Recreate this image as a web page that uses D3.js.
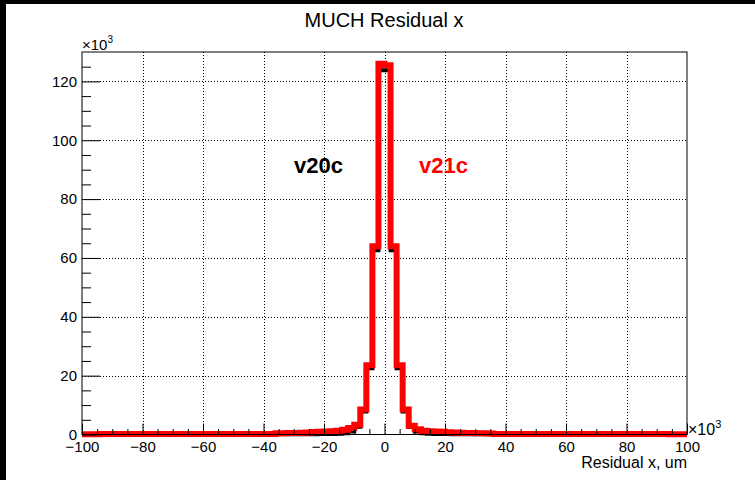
<!DOCTYPE html>
<html lang="en">
<head>
  <meta charset="UTF-8">
  <title>MUCH Residual x</title>
  <script src="https://d3js.org/d3.v7.min.js"></script>
  <style>
    body { margin: 0; background: #fff; }
    text { font-family: "Liberation Sans", Arial, Helvetica, sans-serif; }
  </style>
</head>
<body>
<svg id="graph" width="755" height="480"></svg>
<script>
  // histogram binning: 100 bins of width 2 from -100 to 100 (x10^3)
  var xMin = -100, xMax = 100, nBins = 100;

  // bin contents in units of 10^3 entries, bin 0 = [-100,-98]
  var v20c = [
    0.02, 0.02, 0.02, 0.02, 0.02, 0.02, 0.02, 0.02, 0.02, 0.02,
    0.02, 0.02, 0.02, 0.02, 0.02, 0.02, 0.02, 0.02, 0.02, 0.02,
    0.03, 0.03, 0.03, 0.03, 0.03, 0.03, 0.03, 0.04, 0.04, 0.04,
    0.05, 0.05, 0.06, 0.06, 0.07, 0.08, 0.09, 0.10, 0.12, 0.14,
    0.17, 0.20, 0.28, 0.45, 1.0, 2.6, 7.8, 22.5, 62.6, 123.8,
    123.8, 62.6, 22.5, 7.8, 2.6, 1.0, 0.45, 0.28, 0.20, 0.17,
    0.14, 0.12, 0.10, 0.09, 0.08, 0.07, 0.06, 0.06, 0.05, 0.05,
    0.04, 0.04, 0.04, 0.03, 0.03, 0.03, 0.03, 0.03, 0.03, 0.03,
    0.02, 0.02, 0.02, 0.02, 0.02, 0.02, 0.02, 0.02, 0.02, 0.02,
    0.02, 0.02, 0.02, 0.02, 0.02, 0.02, 0.02, 0.02, 0.02, 0.02
  ];
  var v21c = [
    0.12, 0.12, 0.12, 0.13, 0.13, 0.13, 0.13, 0.13, 0.14, 0.14,
    0.14, 0.14, 0.14, 0.15, 0.15, 0.15, 0.15, 0.15, 0.16, 0.16,
    0.16, 0.16, 0.17, 0.17, 0.17, 0.18, 0.18, 0.18, 0.19, 0.19,
    0.20, 0.20, 0.40, 0.45, 0.50, 0.55, 0.60, 0.70, 0.85, 0.95,
    1.0, 1.1, 1.3, 1.6, 2.2, 3.3, 8.5, 23.5, 64.0, 126.0,
    125.5, 64.0, 23.5, 8.5, 3.0, 1.8, 1.3, 1.1, 1.0, 0.9,
    0.8, 0.7, 0.6, 0.55, 0.5, 0.45, 0.4, 0.35, 0.20, 0.20,
    0.19, 0.19, 0.18, 0.18, 0.18, 0.17, 0.17, 0.17, 0.16, 0.16,
    0.16, 0.16, 0.15, 0.15, 0.15, 0.15, 0.15, 0.14, 0.14, 0.14,
    0.14, 0.14, 0.13, 0.13, 0.13, 0.13, 0.13, 0.12, 0.12, 0.12
  ];

  var xMajor = [-100, -80, -60, -40, -20, 0, 20, 40, 60, 80, 100];
  var yMajor = [0, 20, 40, 60, 80, 100, 120];

  // frame of the pad
  var frame = { left: 82, right: 687, top: 52, bottom: 434.5 };

  var svg = d3.select("#graph");

  // canvas edges
  svg.append("rect").attr("x", 0).attr("y", 0).attr("width", 755).attr("height", 4).attr("fill", "#000");
  svg.append("rect").attr("x", 0).attr("y", 0).attr("width", 6).attr("height", 480).attr("fill", "#000");

  var binWidth = (xMax - xMin) / nBins;
  var edges = d3.range(nBins + 1).map(function (i) { return xMin + i * binWidth; });

  // y range like ROOT: 5% headroom over the first drawn histogram
  var yMax = d3.max(v20c) * 1.05;

  var x = d3.scaleLinear().domain([xMin, xMax]).range([frame.left, frame.right]);
  var y = d3.scaleLinear().domain([0, yMax]).range([frame.bottom, frame.top]);

  // dotted grid at the major ticks
  var grid = svg.append("g")
    .attr("stroke", "#000")
    .attr("stroke-width", 1)
    .attr("stroke-dasharray", "1,2");
  grid.selectAll(".gx")
    .data(xMajor.slice(1, -1))
    .enter().append("line")
    .attr("x1", function (d) { return Math.round(x(d)) + 0.5; })
    .attr("x2", function (d) { return Math.round(x(d)) + 0.5; })
    .attr("y1", frame.top)
    .attr("y2", frame.bottom);
  grid.selectAll(".gy")
    .data(yMajor.slice(1))
    .enter().append("line")
    .attr("x1", frame.left)
    .attr("x2", frame.right)
    .attr("y1", function (d) { return Math.round(y(d)) + 0.5; })
    .attr("y2", function (d) { return Math.round(y(d)) + 0.5; });

  // step outline of a histogram
  var step = d3.line()
    .x(function (d) { return x(d[0]); })
    .y(function (d) { return y(d[1]); })
    .curve(d3.curveStepAfter);

  function outline(vals) {
    var pts = vals.map(function (v, i) { return [edges[i], v]; });
    pts.push([xMax, vals[vals.length - 1]]);
    return step(pts);
  }

  svg.append("path")
    .attr("d", outline(v20c))
    .attr("fill", "none")
    .attr("stroke", "#000")
    .attr("stroke-width", 4);

  svg.append("path")
    .attr("d", outline(v21c))
    .attr("fill", "none")
    .attr("stroke", "#ff0000")
    .attr("stroke-width", 6)
    .attr("stroke-linejoin", "miter");

  // axes: ticks point inside the frame
  var fmt = function (d) { return d < 0 ? "\u2212" + Math.abs(d) : String(d); };

  svg.append("g")
    .attr("transform", "translate(" + frame.left + ",0)")
    .call(d3.axisLeft(y).tickValues(yMajor).tickSizeInner(-18).tickSizeOuter(0).tickPadding(5).tickFormat(fmt));
  svg.append("g")
    .attr("transform", "translate(" + frame.left + ",0)")
    .call(d3.axisLeft(y).tickValues(d3.range(0, yMax, 5).filter(function (d) { return d % 20 !== 0; }))
      .tickSizeInner(-9).tickSizeOuter(0).tickFormat(""));

  svg.append("g")
    .attr("transform", "translate(0," + frame.bottom + ")")
    .call(d3.axisBottom(x).tickValues(xMajor).tickSizeInner(-11).tickSizeOuter(0).tickPadding(7).tickFormat(fmt));
  svg.append("g")
    .attr("transform", "translate(0," + frame.bottom + ")")
    .call(d3.axisBottom(x).tickValues(d3.range(xMin, xMax + 1, 5).filter(function (d) { return d % 20 !== 0; }))
      .tickSizeInner(-5.5).tickSizeOuter(0).tickFormat(""));

  svg.selectAll(".domain").remove();
  svg.selectAll(".tick text").attr("font-size", 15).attr("fill", "#000").style("font-family", "Liberation Sans, Arial, sans-serif");

  // frame box
  svg.append("rect")
    .attr("x", frame.left)
    .attr("y", frame.top)
    .attr("width", frame.right - frame.left)
    .attr("height", frame.bottom - frame.top)
    .attr("fill", "none")
    .attr("stroke", "#000")
    .attr("stroke-width", 1);

  // exponent markers
  var expY = svg.append("text").attr("x", frame.left).attr("y", 50).attr("font-size", 15);
  expY.append("tspan").text("\u00d710");
  expY.append("tspan").attr("font-size", 10).attr("dy", -7).text("3");

  var expX = svg.append("text").attr("x", frame.right + 1).attr("y", 435).attr("font-size", 16);
  expX.append("tspan").text("\u00d710");
  expX.append("tspan").attr("font-size", 11).attr("dy", -7).text("3");

  // titles
  svg.append("text")
    .attr("x", 384)
    .attr("y", 27)
    .attr("text-anchor", "middle")
    .attr("font-size", 20)
    .text("MUCH Residual x");

  svg.append("text")
    .attr("x", frame.right)
    .attr("y", 468)
    .attr("text-anchor", "end")
    .attr("font-size", 16)
    .text("Residual x, um");

  // version labels
  svg.append("text")
    .attr("x", 294)
    .attr("y", 173)
    .attr("font-size", 22)
    .attr("font-weight", "bold")
    .attr("fill", "#000")
    .text("v20c");

  svg.append("text")
    .attr("x", 419)
    .attr("y", 173)
    .attr("font-size", 22)
    .attr("font-weight", "bold")
    .attr("fill", "#ff0000")
    .text("v21c");
</script>
</body>
</html>
